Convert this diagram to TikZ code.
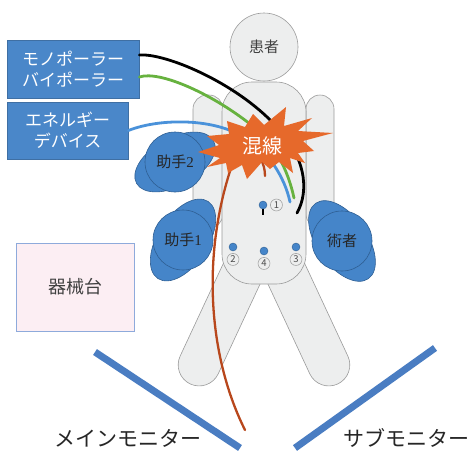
\documentclass[tikz,border=0pt]{standalone}
\usepackage{fontspec}
\newfontfamily\jp{Noto Sans CJK JP}
\newfontfamily\num{Liberation Serif}
\usetikzlibrary{positioning}

\definecolor{bodyfill}{HTML}{EDEEEE}
\definecolor{bodyline}{HTML}{9A9A9A}
\definecolor{staffblue}{HTML}{4585C9}
\definecolor{staffline}{HTML}{2F5F93}
\definecolor{boxblue}{HTML}{4A87C9}
\definecolor{boxline}{HTML}{3F6FA3}
\definecolor{burstorange}{HTML}{E6692B}
\definecolor{wiregreen}{HTML}{67B23F}
\definecolor{wireblue}{HTML}{4A92DA}
\definecolor{wirebrown}{HTML}{B8471C}
\definecolor{monblue}{HTML}{4A7DC2}
\definecolor{tablefill}{HTML}{FCEEF3}
\definecolor{tableline}{HTML}{8EAADB}

\begin{document}
\begin{tikzpicture}[x=1pt, y=-1pt,
    body/.style={draw=bodyline, fill=bodyfill, line width=0.6pt},
    staff/.style={draw=staffline, fill=staffblue, line width=0.6pt},
    wire/.style={line width=2.8pt, line cap=round},
    port/.style={circle, draw=staffline, fill=staffblue, line width=0.4pt, minimum size=8pt, inner sep=0pt},
    portno/.style={circle, draw=bodyline, fill=bodyfill, line width=0.5pt, minimum size=12pt, inner sep=0pt, text=black!70, font=\jp\fontsize{9.5}{9.5}\selectfont},
    device/.style={draw=boxline, fill=boxblue, line width=0.8pt, text=white, align=center, inner sep=0pt, font=\jp\fontsize{17}{21}\selectfont},
    monitor/.style={draw=monblue, line width=7pt}]
\useasboundingbox (0,0) rectangle (474,450);

% patient seen from above: legs and arms behind the torso
\node[body, rounded corners=21pt, minimum width=42pt, minimum height=150pt, rotate=-25] (lleg) at (222,316) {};
\node[body, rounded corners=21pt, minimum width=42pt, minimum height=150pt, rotate=25] (rleg) at (306,316) {};
\draw[body, rounded corners=14pt] (193,95) rectangle (223,228);
\draw[body, rounded corners=14pt] (306,95) rectangle (334,228);
\node[body, rounded corners=30pt, minimum width=84pt, minimum height=202pt] (torso) at (264,183) {};
\node[body, circle, minimum size=68pt, inner sep=0pt, text=black!75, font=\jp\fontsize{15}{15}\selectfont] (patient) at (264,47) {患者};

% trocar ports
\node[port] (p1) at (263,205) {};
\draw[line width=2pt] (p1.south) -- ++(0,6);
\node[portno, right=3pt of p1] (n1) {1};
\node[port] (p2) at (233,247) {};
\node[portno, below=2pt of p2] (n2) {2};
\node[port] (p4) at (264,251) {};
\node[portno, below=2pt of p4] (n4) {4};
\node[port] (p3) at (296,247) {};
\node[portno, below=2pt of p3] (n3) {3};

% staff around the table
\draw[staff, rotate around={29:(175,162)}] (175,162) ellipse (44 and 24);
\node[staff, circle, minimum size=60pt, inner sep=0pt, text=black!85, font=\fontsize{15}{15}\selectfont] (asst2) at (175,162) {{\jp 助手}{\num 2}};
\draw[staff, rotate around={57:(183,240)}] (183,240) ellipse (46 and 25);
\node[staff, circle, minimum size=60pt, inner sep=0pt, text=black!85, font=\fontsize{15}{15}\selectfont] (asst1) at (183,240) {{\jp 助手}{\num 1}};
\draw[staff, rotate around={-55:(342,241)}] (342,241) ellipse (46 and 25);
\node[staff, circle, minimum size=60pt, inner sep=0pt, text=black!85, font=\jp\fontsize{15}{15}\selectfont] (surgeon) at (342,241) {術者};

% devices
\node[device, minimum width=132pt, minimum height=58pt] (mono) at (73,69) {モノポーラー\\バイポーラー};
\node[device, minimum width=121pt, minimum height=57pt] (energy) at (67.5,130.5) {エネルギー\\デバイス};

% cable ends
\coordinate (tipblack) at (297,213);
\coordinate (tipgreen) at (294,198);
\coordinate (tipblue) at (290,202);
\coordinate (tipbrown) at (265,176);
\coordinate (brownend) at (245,430);

\draw[wire, wirebrown, line width=2.3pt] (brownend) .. controls (210,360) and (200,260) .. (232,165)
    .. controls (240,140) and (265,150) .. (tipbrown);
\draw[wire, wireblue] (energy.east) .. controls (160,118) and (215,118) .. (245,138)
    .. controls (268,150) and (285,178) .. (tipblue);
\draw[wire, wiregreen] ([yshift=-8pt]mono.east) .. controls (160,70) and (215,95) .. (255,128)
    .. controls (275,145) and (288,170) .. (tipgreen);
\draw[wire, black] ([yshift=14pt]mono.east) .. controls (165,53) and (235,82) .. (275,125)
    .. controls (305,155) and (310,190) .. (tipblack);

% tangled cables
\fill[burstorange] (198,152) -- (219,145) -- (207,136) -- (229,134) -- (227,121) -- (245,127)
    -- (253,114) -- (264,125) -- (286,107) -- (284,126) -- (312,118) -- (298,131)
    -- (333,133) -- (303,141) -- (314,151) -- (298,153) -- (305,163) -- (290,158)
    -- (293,173) -- (279,162) -- (270,169) -- (262,162) -- (247,179) -- (242,165)
    -- (228,173) -- (226,163) -- (207,167) -- (220,158) -- cycle;
\node[text=white, font=\jp\fontsize{20}{20}\selectfont] (mix) at (262,146) {混線};

% instrument table and monitors
\node[draw=tableline, fill=tablefill, line width=1pt, minimum width=118pt, minimum height=88pt, text=black!75, font=\jp\fontsize{18}{18}\selectfont] (table) at (75,287) {器械台};
\draw[monitor] (95,352) -- (240,448);
\draw[monitor] (435,348) -- (295,448);
\node[text=black!85, font=\jp\fontsize{21}{21}\selectfont] (mainlbl) at (128,438) {メインモニター};
\node[text=black!85, font=\jp\fontsize{21}{21}\selectfont] (sublbl) at (406,438) {サブモニター};
\end{tikzpicture}
\end{document}
